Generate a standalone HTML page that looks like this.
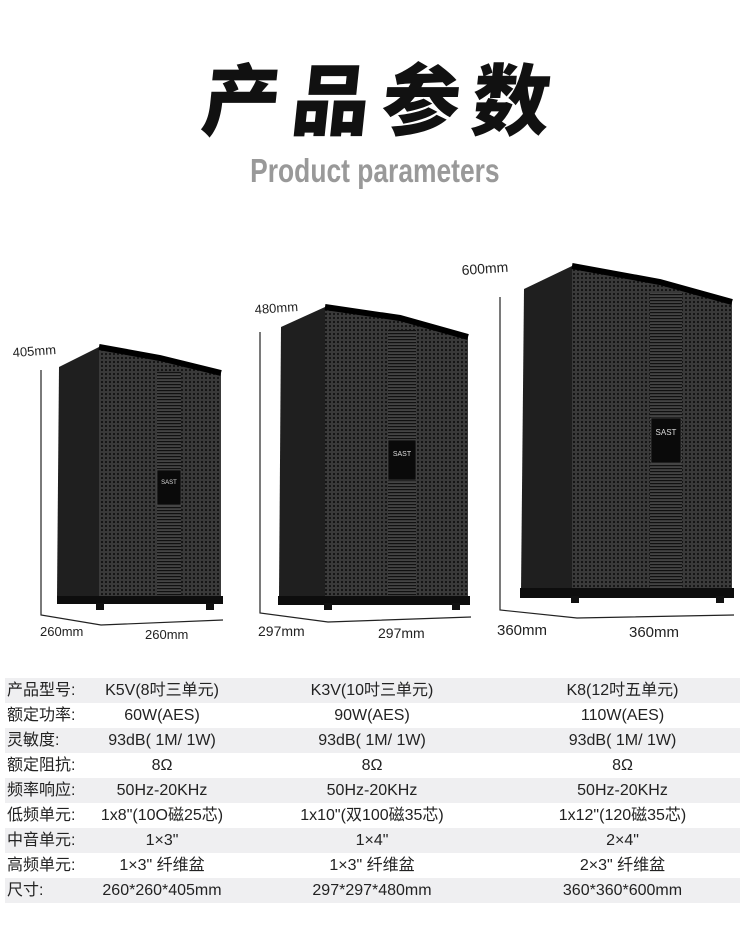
<!DOCTYPE html>
<html><head><meta charset="utf-8">
<style>
html,body{margin:0;padding:0;background:#fff;}
body{width:750px;height:944px;position:relative;overflow:hidden;font-family:"Liberation Sans","Noto Sans CJK SC",sans-serif;}
.title{position:absolute;left:8px;width:750px;top:46px;text-align:center;font-family:"Noto Sans CJK SC",sans-serif;font-weight:900;font-size:78px;line-height:100px;color:#111;letter-spacing:12px;transform:skewX(-6deg);}
.sub{position:absolute;left:0;width:750px;top:151px;text-align:center;font-weight:bold;font-size:33px;line-height:40px;color:#999;}
.sub span{display:inline-block;transform:scaleX(0.8);}
table{position:absolute;left:5px;top:678px;width:735px;border-collapse:collapse;font-family:"Liberation Sans","Noto Sans CJK SC",sans-serif;font-size:16px;color:#222;}
td{height:25px;line-height:25px;padding:0;white-space:nowrap;vertical-align:middle;overflow:hidden;}
td div{height:25px;line-height:25px;}
tr:nth-child(odd){background:#efeff1;}
td.l{width:88px;padding-left:2px;}
td.c1{width:134px;text-align:center;}
td.c2{width:286px;text-align:center;}
td.c3{text-align:center;padding-right:10px;}
</style></head><body>
<div class="title">产品参数</div>
<div class="sub"><span>Product parameters</span></div>

<svg width="750" height="944" style="position:absolute;left:0;top:0">
<defs>
<pattern id="dots" width="4" height="4" patternUnits="userSpaceOnUse">
<rect width="4" height="4" fill="#3a3a3a"/><circle cx="2" cy="2" r="1.1" fill="#111"/>
</pattern>
<pattern id="slots" width="3" height="3" patternUnits="userSpaceOnUse">
<rect width="3" height="3" fill="#444"/><rect y="0" width="3" height="1.2" fill="#111"/>
</pattern>
</defs>
<g stroke="#222" stroke-width="1.2" fill="none">
<polyline points="41,370 41,615 101,625 223,620"/>
<polyline points="260,332 260,613 328,622 471,617"/>
<polyline points="500,297 500,610 577,618 734,615"/>
</g>
<polygon points="59,367 99,347 99,600 57,597" fill="#1f1f1f"/>
<polygon points="99,347 160,358 221,373 221,598 99,600" fill="url(#dots)"/>
<polyline points="99,347 160,358 221,373" stroke="#000" stroke-width="6" fill="none"/>
<rect x="157" y="372" width="24" height="225" fill="url(#slots)"/>
<rect x="157" y="470" width="24" height="35" fill="#0a0a0a" stroke="#555" stroke-width="0.6"/>
<text x="169" y="484" font-size="6" fill="#ddd" text-anchor="middle" font-family="Liberation Sans">SAST</text>
<rect x="57" y="596" width="166" height="8" fill="#0d0d0d"/>
<rect x="96" y="603" width="8" height="7" fill="#111"/><rect x="206" y="603" width="8" height="7" fill="#111"/>
<polygon points="281,327 325,307 325,598 279,597" fill="#1f1f1f"/>
<polygon points="325,307 400,318 468,337 468,597 325,598" fill="url(#dots)"/>
<polyline points="325,307 400,318 468,337" stroke="#000" stroke-width="6" fill="none"/>
<rect x="388" y="330" width="28" height="268" fill="url(#slots)"/>
<rect x="388" y="440" width="28" height="40" fill="#0a0a0a" stroke="#555" stroke-width="0.6"/>
<text x="402" y="456" font-size="7" fill="#ddd" text-anchor="middle" font-family="Liberation Sans">SAST</text>
<rect x="278" y="596" width="192" height="9" fill="#0d0d0d"/>
<rect x="324" y="603" width="8" height="7" fill="#111"/><rect x="452" y="603" width="8" height="7" fill="#111"/>
<polygon points="524,289 572,266 572,592 521,591" fill="#1f1f1f"/>
<polygon points="572,266 660,282 732,302 732,591 572,592" fill="url(#dots)"/>
<polyline points="572,266 660,282 732,302" stroke="#000" stroke-width="6" fill="none"/>
<rect x="650" y="293" width="32" height="300" fill="url(#slots)"/>
<rect x="651" y="418" width="30" height="45" fill="#0a0a0a" stroke="#555" stroke-width="0.6"/>
<text x="666" y="435" font-size="8" fill="#ddd" text-anchor="middle" font-family="Liberation Sans">SAST</text>
<rect x="520" y="588" width="214" height="10" fill="#0d0d0d"/>
<rect x="571" y="596" width="8" height="7" fill="#111"/><rect x="716" y="596" width="8" height="7" fill="#111"/>
<g font-family="Liberation Sans" font-size="13" fill="#222">
<text x="13" y="357" transform="rotate(-4 13 357)">405mm</text>
<text x="40" y="636">260mm</text>
<text x="145" y="639">260mm</text>
<text x="255" y="314" transform="rotate(-4 255 314)">480mm</text>
<text x="258" y="636" font-size="14">297mm</text>
<text x="378" y="638" font-size="14">297mm</text>
<text x="462" y="275" transform="rotate(-4 462 275)" font-size="14">600mm</text>
<text x="497" y="635" font-size="15">360mm</text>
<text x="629" y="637" font-size="15">360mm</text>
</g>
</svg>

<table>
<tr><td class="l"><div>产品型号:</div></td><td class="c1"><div>K5V(8吋三单元)</div></td><td class="c2"><div>K3V(10吋三单元)</div></td><td class="c3"><div>K8(12吋五单元)</div></td></tr>
<tr><td class="l"><div>额定功率:</div></td><td class="c1"><div>60W(AES)</div></td><td class="c2"><div>90W(AES)</div></td><td class="c3"><div>110W(AES)</div></td></tr>
<tr><td class="l"><div>灵敏度:</div></td><td class="c1"><div>93dB( 1M/ 1W)</div></td><td class="c2"><div>93dB( 1M/ 1W)</div></td><td class="c3"><div>93dB( 1M/ 1W)</div></td></tr>
<tr><td class="l"><div>额定阻抗:</div></td><td class="c1"><div>8Ω</div></td><td class="c2"><div>8Ω</div></td><td class="c3"><div>8Ω</div></td></tr>
<tr><td class="l"><div>频率响应:</div></td><td class="c1"><div>50Hz-20KHz</div></td><td class="c2"><div>50Hz-20KHz</div></td><td class="c3"><div>50Hz-20KHz</div></td></tr>
<tr><td class="l"><div>低频单元:</div></td><td class="c1"><div>1x8"(10O磁25芯)</div></td><td class="c2"><div>1x10"(双100磁35芯)</div></td><td class="c3"><div>1x12"(120磁35芯)</div></td></tr>
<tr><td class="l"><div>中音单元:</div></td><td class="c1"><div>1×3"</div></td><td class="c2"><div>1×4"</div></td><td class="c3"><div>2×4"</div></td></tr>
<tr><td class="l"><div>高频单元:</div></td><td class="c1"><div>1×3" 纤维盆</div></td><td class="c2"><div>1×3" 纤维盆</div></td><td class="c3"><div>2×3" 纤维盆</div></td></tr>
<tr><td class="l"><div>尺寸:</div></td><td class="c1"><div>260*260*405mm</div></td><td class="c2"><div>297*297*480mm</div></td><td class="c3"><div>360*360*600mm</div></td></tr>
</table>
</body></html>
